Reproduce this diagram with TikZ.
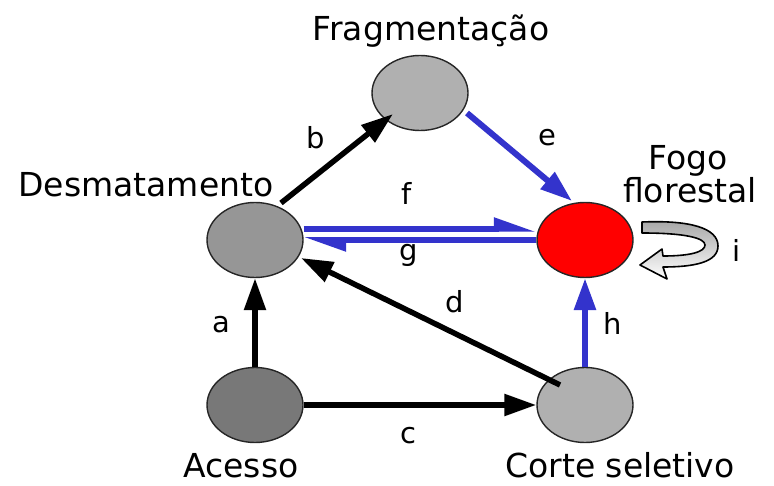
\documentclass[tikz,border=0pt]{standalone}
\usepackage{fontspec}
\setmainfont{DejaVu Sans}
\usetikzlibrary{arrows.meta,shapes.geometric,calc}
\definecolor{edgeblue}{RGB}{51,51,204}
\definecolor{lightg}{RGB}{176,176,176}
\definecolor{midg}{RGB}{150,150,150}
\definecolor{darkg}{RGB}{120,120,120}
\definecolor{fire}{RGB}{255,0,0}
\begin{document}
\begin{tikzpicture}[x=1pt,y=-1pt,
  txt/.style={font=\fontsize{33}{36}\selectfont, inner sep=0pt},
  lbl/.style={font=\fontsize{29}{32}\selectfont, inner sep=0pt},
  st/.style={ellipse, draw=black!85, line width=1.4pt, minimum width=96pt, minimum height=75pt, inner sep=0pt},
  blk/.style={line width=5.5pt, black, -{Triangle[length=32pt,width=21pt]}},
  blu/.style={line width=6pt, edgeblue, -{Triangle[length=32pt,width=21pt]}},
  harp/.style={line width=5.5pt, edgeblue, -{Triangle[harpoon,length=34pt,width=22pt]}}]
\useasboundingbox (0,0) rectangle (774,486);

% nodes
\node[st, fill=lightg] (F) at (420,93) {};
\node[st, fill=midg] (D) at (255,240) {};
\node[st, fill=fire] (G) at (585,240) {};
\node[st, fill=darkg] (A) at (255,405) {};
\node[st, fill=lightg] (C) at (585,405) {};

% titles
\node[txt, anchor=base] (tF) at (431,41) {Fragmentação};
\node[txt, anchor=base] (tD) at (146,197) {Desmatamento};
\node[txt, anchor=base] (tG1) at (688,170) {Fogo};
\node[txt, anchor=base] (tG2) at (690,203) {florestal};
\node[txt, anchor=base] (tA) at (241,477) {Acesso};
\node[txt, anchor=base] (tC) at (620,477) {Corte seletivo};

% edge labels
\node[lbl] (la) at (221,325) {a};
\node[lbl] (lb) at (316,138) {b};
\node[lbl] (lc) at (408,436) {c};
\node[lbl] (ld) at (455,302) {d};
\node[lbl] (le) at (547,138) {e};
\node[lbl] (lf) at (407,193) {f};
\node[lbl] (lg) at (409,255) {g};
\node[lbl] (lh) at (613,323) {h};
\node[lbl] (li) at (737,250) {i};

% edges
\coordinate (bS) at ($(D)+(26,-37)$);
\coordinate (bE) at ($(F)+(-27,21)$);
\draw[blk] (A.north) -- (D.south);
\draw[blk] (bS) -- (bE);
\draw[blk] (A.east) -- (C.west);
\coordinate (dS) at ($(C)+(-25,-20)$);
\coordinate (dE) at ($(D)+(46,18)$);
\draw[blk] (dS) -- (dE);
\coordinate (eS) at ($(F)+(47,20)$);
\coordinate (eE) at ($(G)+(-13,-39)$);
\draw[blu] (eS) -- (eE);
\draw[harp] ($(D.east)+(0,-11)$) -- ($(G.west)+(0,-11)$);
\draw[harp] ($(G.west)+(0,0)$) -- ($(D.east)+(0,0)$);
\draw[blu] (C.north) -- (G.south);

% self loop i
\path[draw=black, line width=1.6pt, line join=round, top color=black!35, bottom color=white, shading angle=0]
  ($(G)+(57,-18)$) .. controls ($(G)+(105,-20)$) and ($(G)+(133,-12)$) .. ($(G)+(133,6)$)
  .. controls ($(G)+(133,22)$) and ($(G)+(110,27)$) .. ($(G)+(78,27)$)
  -- ($(G)+(82,39)$) -- ($(G)+(55,25)$) -- ($(G)+(77,9)$) -- ($(G)+(78,16)$)
  .. controls ($(G)+(105,16)$) and ($(G)+(120,12)$) .. ($(G)+(120,5)$)
  .. controls ($(G)+(120,-2)$) and ($(G)+(100,-7)$) .. ($(G)+(57,-7)$)
  -- cycle;
\end{tikzpicture}
\end{document}
